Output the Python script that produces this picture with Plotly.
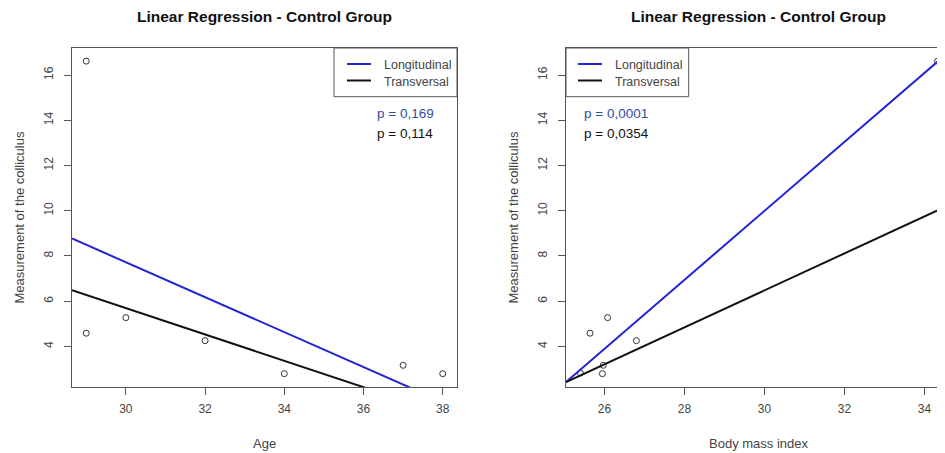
import plotly.graph_objects as go

# ---- data ----
age = [29, 29, 30, 32, 34, 37, 38]
bmi = [34.33, 25.64, 26.08, 26.8, 25.95, 25.97, 25.4]
colliculus_age = [16.62, 4.58, 5.27, 4.25, 2.79, 3.16, 2.79]
colliculus_bmi = [16.62, 4.58, 5.27, 4.25, 2.79, 3.16, 2.82]

series_names = ["Longitudinal", "Transversal"]
series_colors = ["#2323d6", "#111111"]

# regression lines (intercept, slope)
age_intercepts = [30.91, 23.18]
age_slopes = [-0.773, -0.583]
bmi_intercepts = [-35.79, -18.05]
bmi_slopes = [1.526, 0.8175]

age_pvalues = ["p = 0,169", "p = 0,114"]
bmi_pvalues = ["p = 0,0001", "p = 0,0354"]
pvalue_colors = ["#2f4f9f", "#111111"]

title_text = "Linear Regression - Control Group"
ytitle = "Measurement of the colliculus"
xtitles = ["Age", "Body mass index"]

age_ticks = [30, 32, 34, 36, 38]
bmi_ticks = [26, 28, 30, 32, 34]
y_ticks = [4, 6, 8, 10, 12, 14, 16]

# ---- layout geometry (screen pixels; page body has an 8px margin) ----
OFF = 8
SW, SH = 945, 453
W, H = SW - OFF, SH - OFF
FONT = "Liberation Sans, Arial, sans-serif"
AX = "#555555"


def px(x):
    return (x - OFF) / W


def py(y):
    return 1 - (y - OFF) / H


left_dom = [px(72), px(457)]
right_dom = [px(566), 1.0]
y_dom = [py(387), py(48)]

age_range = [28.64, 38.36]
bmi_range = [25.04, 25.04 + (945 - 566) / 40.0]
y_range = [2.2, 17.2]

fig = go.Figure()

# points
fig.add_trace(go.Scatter(x=age, y=colliculus_age, mode="markers", xaxis="x", yaxis="y",
                         marker=dict(symbol="circle-open", size=6, color="#333333", line=dict(width=1)),
                         showlegend=False, hoverinfo="x+y"))
fig.add_trace(go.Scatter(x=bmi, y=colliculus_bmi, mode="markers", xaxis="x2", yaxis="y2",
                         marker=dict(symbol="circle-open", size=6, color="#333333", line=dict(width=1)),
                         showlegend=False, hoverinfo="x+y"))

# regression lines
for i in range(2):
    xs = age_range
    fig.add_trace(go.Scatter(x=xs, y=[age_intercepts[i] + age_slopes[i] * v for v in xs],
                             mode="lines", xaxis="x", yaxis="y", name=series_names[i],
                             line=dict(color=series_colors[i], width=2), showlegend=False))
    xs2 = bmi_range
    fig.add_trace(go.Scatter(x=xs2, y=[bmi_intercepts[i] + bmi_slopes[i] * v for v in xs2],
                             mode="lines", xaxis="x2", yaxis="y2", name=series_names[i],
                             line=dict(color=series_colors[i], width=2), showlegend=False))

axis_common = dict(showgrid=False, zeroline=False, showline=True, linecolor=AX, linewidth=1,
                   ticks="outside", ticklen=7, tickcolor=AX, tickwidth=1,
                   tickfont=dict(family=FONT, size=12, color="#444444"))

fig.update_layout(
    width=W, height=H,
    margin=dict(l=0, r=0, t=0, b=0),
    paper_bgcolor="white", plot_bgcolor="white",
    showlegend=False,
    xaxis=dict(domain=left_dom, range=age_range, tickvals=age_ticks, anchor="y", mirror=True,
               ticklabelstandoff=4, **axis_common),
    yaxis=dict(domain=y_dom, range=y_range, tickvals=y_ticks, anchor="x", mirror=True,
               tickangle=-90, ticklabelstandoff=6, **axis_common),
    xaxis2=dict(domain=right_dom, range=bmi_range, tickvals=bmi_ticks, anchor="y2", mirror=True,
                ticklabelstandoff=4, **axis_common),
    yaxis2=dict(domain=y_dom, range=y_range, tickvals=y_ticks, anchor="x2", mirror=False,
                tickangle=-90, ticklabelstandoff=6, **axis_common),
)

annotations = []
shapes = []

# titles
for cx in [264.5, 758]:
    annotations.append(dict(x=px(cx), y=py(17), xref="paper", yref="paper", text="<b>%s</b>" % title_text,
                            showarrow=False, font=dict(family=FONT, size=15.5, color="#111111"),
                            xanchor="center", yanchor="middle"))
# x titles
for cx, t in zip([264.5, 758], xtitles):
    annotations.append(dict(x=px(cx), y=py(443), xref="paper", yref="paper", text=t, showarrow=False,
                            font=dict(family=FONT, size=13, color="#444444"), xanchor="center", yanchor="middle"))
# y titles
for cx in [19, 513]:
    annotations.append(dict(x=px(cx), y=py(217.5), xref="paper", yref="paper", text=ytitle, showarrow=False,
                            textangle=-90, font=dict(family=FONT, size=13, color="#444444"),
                            xanchor="center", yanchor="middle"))

# legends (manual, R style)
for (bx0, bx1, lx0, lx1, tx) in [(334, 457, 347, 371, 382), (566, 688.7, 578, 602, 613)]:
    shapes.append(dict(type="rect", xref="paper", yref="paper", x0=px(bx0), x1=px(bx1), y0=py(96.7), y1=py(48),
                       line=dict(color=AX, width=1), fillcolor="white", layer="above"))
    for i, ly in enumerate([64, 80.5]):
        shapes.append(dict(type="line", xref="paper", yref="paper", x0=px(lx0), x1=px(lx1), y0=py(ly), y1=py(ly),
                           line=dict(color=series_colors[i], width=2), layer="above"))
        annotations.append(dict(x=px(tx), y=py(ly + 1.5), xref="paper", yref="paper", text=series_names[i],
                                showarrow=False, xanchor="left", yanchor="middle",
                                font=dict(family=FONT, size=12.5, color="#444444")))

# p-values
for (x0, texts) in [(375, age_pvalues), (582, bmi_pvalues)]:
    for i, ly in enumerate([113, 133]):
        annotations.append(dict(x=px(x0), y=py(ly), xref="paper", yref="paper", text=texts[i], showarrow=False,
                                xanchor="left", yanchor="middle",
                                font=dict(family=FONT, size=13.5, color=pvalue_colors[i])))

fig.update_layout(annotations=annotations, shapes=shapes)
fig.write_html("out.html")
